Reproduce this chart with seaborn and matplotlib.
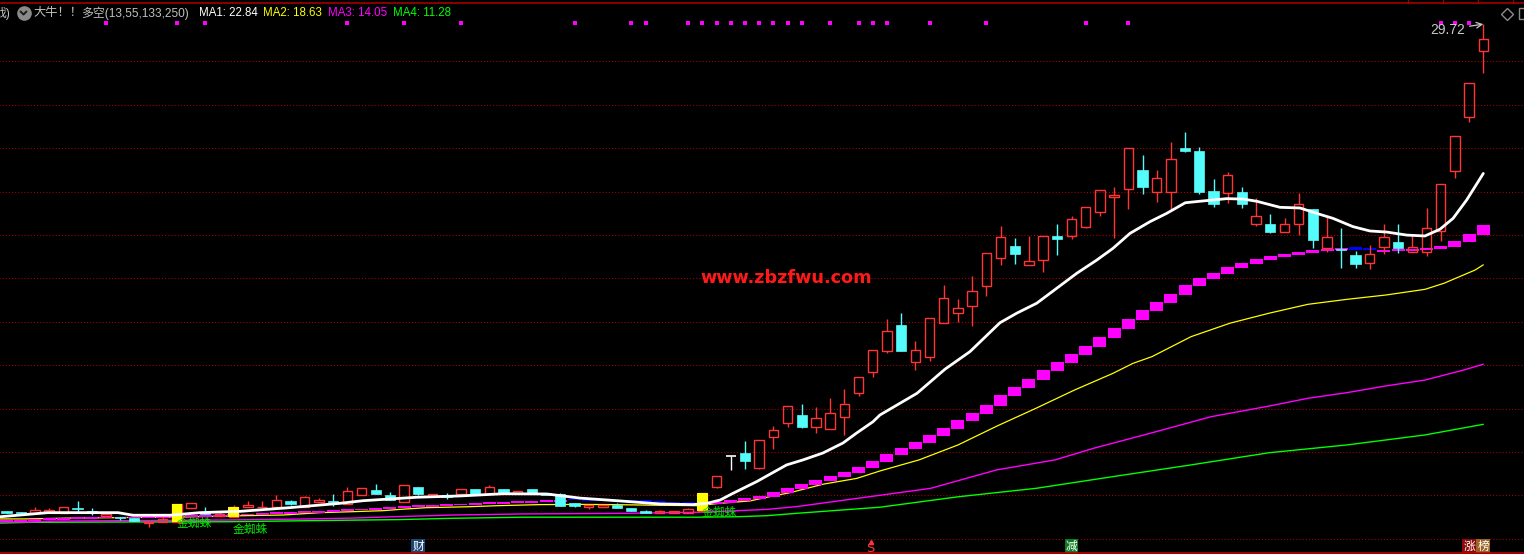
import numpy as np
import pandas as pd
import matplotlib
matplotlib.use("Agg")
import matplotlib.pyplot as plt
import seaborn as sns
from matplotlib.lines import Line2D
from matplotlib.patches import Rectangle
from matplotlib import font_manager as fm

# ---------------- data ----------------
opens = [7.29, 7.24, 7.18, 7.25, 7.21, 7.42, 7.29, 7.07, 7.02, 6.98,
         6.73, 6.79, 6.79, 7.44, 7.19, 7.07, 7.01, 7.46, 7.46, 7.48,
         7.75, 7.49, 7.71, 7.73, 7.59, 8.02, 8.25, 8.02, 7.71, 8.39,
         7.99, 8.02, 8.07, 8.30, 8.07, 8.30, 8.10, 8.30, 8.12, 8.07,
         7.65, 7.48, 7.48, 7.56, 7.44, 7.29, 7.21, 7.21, 7.21, 7.30,
         8.41, 9.82, 9.96, 9.28, 10.68, 11.33, 11.71, 11.17, 11.05, 11.60,
         12.74, 13.71, 14.67, 15.86, 14.14, 14.37, 15.96, 16.40, 16.75, 17.67,
         18.96, 19.50, 18.61, 18.84, 19.96, 19.97, 20.39, 21.05, 21.74, 22.11,
         23.00, 21.97, 21.97, 24.00, 23.88, 22.03, 21.95, 21.99, 20.50, 20.51,
         20.16, 20.50, 21.20, 19.42, 19.35, 19.08, 18.70, 19.44, 19.68, 19.21,
         19.21, 20.19, 22.97, 25.46, 28.50]
highs = [7.29, 7.24, 7.47, 7.42, 7.47, 7.75, 7.42, 7.16, 7.02, 6.98,
         6.79, 7.15, 7.61, 7.65, 7.47, 7.25, 7.55, 7.75, 7.75, 8.02,
         7.79, 7.98, 7.89, 8.07, 8.38, 8.35, 8.53, 8.15, 8.48, 8.39,
         8.07, 8.10, 8.30, 8.30, 8.48, 8.30, 8.22, 8.30, 8.12, 8.12,
         7.65, 7.58, 7.58, 7.64, 7.44, 7.33, 7.33, 7.29, 7.42, 8.13,
         8.90, 9.82, 10.51, 10.56, 11.20, 12.12, 12.22, 12.08, 12.51, 12.91,
         13.45, 14.69, 16.13, 16.40, 15.12, 16.17, 17.70, 17.06, 18.12, 19.16,
         20.42, 19.87, 19.96, 19.94, 20.51, 20.88, 21.28, 22.06, 22.20, 24.00,
         23.69, 23.00, 24.29, 24.75, 24.07, 22.57, 22.91, 22.22, 21.70, 20.96,
         20.77, 21.95, 21.20, 20.85, 20.34, 19.27, 19.53, 20.51, 20.51, 20.05,
         21.25, 22.34, 24.55, 27.00, 29.72]
lows = [7.21, 7.16, 7.18, 7.25, 7.21, 7.21, 7.10, 7.07, 6.87, 6.82,
        6.55, 6.79, 6.79, 7.44, 7.15, 7.07, 7.01, 7.46, 7.46, 7.48,
        7.55, 7.49, 7.71, 7.53, 7.59, 8.02, 8.06, 7.79, 7.71, 8.01,
        7.99, 7.83, 8.07, 8.07, 8.07, 8.12, 8.10, 8.13, 8.02, 7.53,
        7.48, 7.39, 7.48, 7.44, 7.29, 7.21, 7.21, 7.21, 7.21, 7.30,
        8.36, 9.17, 9.23, 9.22, 10.16, 11.17, 11.12, 10.89, 11.05, 10.80,
        12.59, 13.48, 14.55, 14.67, 13.78, 14.21, 15.96, 15.98, 15.83, 17.21,
        18.64, 18.68, 18.61, 18.31, 19.10, 19.83, 20.34, 20.89, 19.88, 21.22,
        21.91, 21.54, 21.16, 23.82, 21.89, 21.31, 21.47, 21.26, 20.43, 20.11,
        20.16, 19.99, 19.42, 19.21, 18.50, 18.50, 18.45, 19.14, 19.19, 19.21,
        19.05, 19.74, 22.65, 25.23, 27.48]
closes = [7.21, 7.19, 7.33, 7.33, 7.47, 7.36, 7.21, 7.16, 6.96, 6.82,
          6.79, 6.92, 7.61, 7.65, 7.15, 7.13, 7.47, 7.56, 7.49, 7.79,
          7.62, 7.93, 7.81, 7.68, 8.21, 8.35, 8.06, 7.79, 8.48, 8.07,
          8.07, 7.95, 8.30, 8.07, 8.39, 8.12, 8.22, 8.13, 8.02, 7.53,
          7.53, 7.58, 7.58, 7.44, 7.29, 7.21, 7.29, 7.29, 7.38, 8.13,
          8.90, 9.82, 9.59, 10.56, 11.02, 12.12, 11.17, 11.57, 11.79, 12.20,
          13.45, 14.69, 15.57, 14.67, 14.69, 16.17, 17.09, 16.63, 17.41, 19.16,
          19.90, 19.14, 18.79, 19.94, 19.83, 20.73, 21.28, 22.06, 21.83, 24.00,
          22.23, 22.62, 23.49, 23.89, 21.99, 21.45, 22.76, 21.45, 20.87, 20.16,
          20.50, 21.42, 19.79, 19.91, 19.30, 18.67, 19.12, 19.91, 19.42, 19.45,
          20.31, 22.34, 24.55, 27.00, 29.02]

# bull/bear step-block line (value per bar)
block_vals = [6.87, 6.89, 6.92, 6.94, 6.96, 6.99, 7.01, 7.03, 7.03, 7.03,
              7.04, 7.06, 7.07, 7.09, 7.10, 7.12, 7.15, 7.17, 7.19, 7.22,
              7.24, 7.27, 7.30, 7.33, 7.36, 7.40, 7.44, 7.47, 7.50, 7.54,
              7.57, 7.60, 7.63, 7.65, 7.68, 7.71, 7.74, 7.76, 7.77, 7.78,
              7.77, 7.76, 7.75, 7.72, 7.70, 7.68, 7.65, 7.63, 7.61, 7.63,
              7.69, 7.79, 7.89, 7.98, 8.16, 8.35, 8.53, 8.71, 8.90, 9.08,
              9.31, 9.59, 9.91, 10.18, 10.47, 10.79, 11.11, 11.48, 11.80, 12.17,
              12.62, 13.00, 13.37, 13.78, 14.15, 14.52, 14.89, 15.30, 15.72, 16.13,
              16.55, 16.92, 17.29, 17.70, 18.02, 18.25, 18.53, 18.71, 18.90, 19.04,
              19.13, 19.22, 19.31, 19.36, 19.41, 19.33, 19.31, 19.33, 19.34, 19.36,
              19.41, 19.50, 19.73, 20.05, 20.47]

ma1_x = [-0.46, 2.92, 7.85, 8.91, 11.51, 13.63, 16.44, 19.96, 23.49, 25.11,
         28.91, 31.94, 34.96, 38.06, 40.39, 43.2, 46.02, 48.35, 49.33, 50.25,
         51.16, 52.83, 54.94, 56.09, 57.5, 58.91, 59.87, 61.02, 61.51, 64.12,
         66.09, 67.85, 69.96, 71.14, 72.55, 73.96, 75.37, 76.78, 77.92, 79.12,
         80.53, 81.7, 83.01, 84.05, 85.93, 87.08, 88.04, 89.68, 91.09, 92.27,
         93.42, 94.82, 96.02, 97.2, 98.61, 99.89, 100.95, 101.87, 102.83, 104.0]
ma1_y = [7.02, 7.21, 7.21, 7.09, 7.09, 7.21, 7.27, 7.44, 7.64, 7.76,
         7.92, 7.98, 8.08, 8.07, 7.88, 7.75, 7.61, 7.58, 7.64, 7.79,
         8.10, 8.64, 9.41, 9.64, 9.96, 10.42, 10.88, 11.40, 11.71, 12.71,
         13.82, 14.63, 15.96, 16.40, 16.86, 17.55, 18.24, 18.85, 19.39, 20.08,
         20.62, 21.00, 21.49, 21.56, 21.68, 21.66, 21.56, 21.28, 21.25, 21.00,
         20.77, 20.39, 20.19, 20.14, 20.00, 19.96, 20.27, 20.77, 21.62, 22.84]

ma2_x = [-0.46, 1.30, 4.47, 12.43, 15.95, 19.47, 22.08, 24.19, 26.51, 27.71,
         29.61, 32.43, 34.54, 37.57, 40.39, 42.5, 46.02, 48.63, 50.25, 52.36,
         53.77, 55.18, 57.5, 59.89, 61.51, 64.26, 67.01, 69.75, 72.5, 75.21,
         77.92, 79.33, 80.67, 83.42, 86.16, 88.91, 91.65, 94.4, 97.15, 99.89,
         101.23, 103.42, 104.0]
ma2_y = [6.92, 6.92, 6.96, 7.01, 7.06, 7.10, 7.21, 7.25, 7.30, 7.36,
         7.44, 7.48, 7.53, 7.58, 7.59, 7.58, 7.55, 7.53, 7.64, 7.75,
         7.95, 8.13, 8.52, 8.79, 9.13, 9.64, 10.33, 11.20, 12.02, 12.86,
         13.63, 14.09, 14.40, 15.32, 15.94, 16.40, 16.81, 17.04, 17.24, 17.50,
         17.78, 18.39, 18.63]

ma3_x = [-0.46, 1.44, 3.56, 15.53, 21.37, 24.40, 27.71, 31.44, 36.37, 43.70,
         48.84, 51.44, 53.56, 55.67, 61.51, 65.08, 69.73, 73.84, 76.58, 80.67,
         84.82, 88.91, 91.65, 94.4, 97.15, 99.89, 102.61, 104.0]
ma3_y = [6.78, 6.78, 6.82, 6.87, 6.92, 6.96, 7.03, 7.10, 7.15, 7.18,
         7.23, 7.30, 7.36, 7.49, 8.01, 8.33, 9.18, 9.64, 10.18, 10.89,
         11.63, 12.12, 12.48, 12.74, 13.05, 13.32, 13.78, 14.05]

ma4_x = [-0.46, 1.44, 3.56, 15.53, 21.37, 27.71, 31.44, 36.37, 48.63, 51.44,
         53.56, 55.67, 61.51, 67.01, 72.5, 77.92, 83.42, 88.91, 94.4, 99.89,
         104.0]
ma4_y = [6.73, 6.76, 6.77, 6.79, 6.84, 6.89, 6.95, 7.00, 7.00, 7.02,
         7.07, 7.18, 7.46, 7.94, 8.33, 8.87, 9.41, 9.97, 10.33, 10.79,
         11.28]

ma_names = ["MA1", "MA2", "MA3", "MA4"]
ma_last = [22.84, 18.63, 14.05, 11.28]
title_prefix = "大牛！！"
title_main = "多空(13,55,133,250)"
cut_label = "戏)"

gold_bars = [12, 16, 49]
gold_label = "金蜘蛛"
gold_label_y = [6.73, 6.43, 7.24]

signal_bars = [7, 12, 14, 24, 28, 32, 40, 44, 45, 48, 49, 50, 51, 52, 53, 54,
               55, 56, 58, 60, 61, 62, 65, 69, 76, 79, 101, 102, 103]

grid_levels = [28, 26, 24, 22, 20, 18, 16, 14, 12, 10, 8, 6]

bottom_labels = ["财", "S", "减", "涨", "榜"]
bottom_bars = [29, 61, 75, 103, 104]

high_label = "29.72"
watermark = "www.zbzfwu.com"

# ---------------- style ----------------
W, H = 1524, 554
sns.set_theme(style="dark", rc={"axes.facecolor": "black", "figure.facecolor": "black"})
names = {f.name for f in fm.fontManager.ttflist}
narrow = "Liberation Sans Narrow" if "Liberation Sans Narrow" in names else "Liberation Sans"
plt.rcParams["font.family"] = [narrow, "Noto Sans CJK SC", "DejaVu Sans"]
plt.rcParams["axes.unicode_minus"] = False

fig = plt.figure(figsize=(W / 100, H / 100), dpi=100, facecolor="black")
ax = fig.add_axes([0, 0, 1, 1])
ax.set_facecolor("black")
X0, DX = 6.5, 14.2
ax.set_xlim(-X0 / DX, (W - X0) / DX)
PPU = 21.7
YTOP = 30.834
ax.set_ylim(YTOP - H / PPU, YTOP)


def fx(px):
    return px / W


def fy(py):
    return 1 - py / H


RED = "#ff3535"
CYAN = "#54fcfc"
MAG = "#ff00ff"

# grid
ax.hlines(grid_levels, -1, 110, colors="#b00000", linestyles=(0, (1, 2)), lw=0.75, zorder=1)

# MA lines (long ones underneath)
for xs, ys, col, lw in [(ma4_x, ma4_y, "#00ff00", 1.0),
                        (ma3_x, ma3_y, MAG, 1.0),
                        (ma2_x, ma2_y, "#ffff00", 0.9)]:
    sns.lineplot(data=pd.DataFrame({"x": xs, "y": ys}), x="x", y="y", ax=ax,
                 color=col, lw=lw, sort=False, estimator=None, legend=False, zorder=2)

# step blocks
n = len(opens)
bottoms, heights, cols = [], [], []
for i in range(n):
    prev = block_vals[i - 1] if i > 0 else block_vals[i]
    lo, hi = min(prev, block_vals[i]), max(prev, block_vals[i])
    h = max(hi - lo + 0.04, 0.09)
    bottoms.append(hi - h if block_vals[i] >= prev else lo)
    heights.append(h)
    cols.append(MAG if block_vals[i] >= prev else "#0000ff")
ax.bar(np.arange(n), heights, bottom=bottoms, width=0.92, color=cols, linewidth=0, zorder=3)

# candles
for i in range(n):
    o, hgh, low, c = opens[i], highs[i], lows[i], closes[i]
    if c > o:
        ax.add_patch(Rectangle((i - 0.33, o), 0.66, c - o, fill=False, ec=RED, lw=1.0, zorder=4))
        if hgh > c:
            ax.vlines(i, c, hgh, color=RED, lw=1.0, zorder=4)
        if low < o:
            ax.vlines(i, low, o, color=RED, lw=1.0, zorder=4)
    elif c < o:
        ax.vlines(i, low, hgh, color=CYAN, lw=1.0, zorder=4)
        ax.add_patch(Rectangle((i - 0.36, c), 0.72, o - c, fc=CYAN, ec=CYAN, lw=0.5, zorder=4))
    else:
        ax.vlines(i, low, hgh, color="white", lw=1.0, zorder=4)
        ax.hlines(o, i - 0.36, i + 0.36, color="white", lw=1.2, zorder=4)

# golden spider signal bars
for k, b in enumerate(gold_bars):
    lo, hi = min(opens[b], closes[b]), max(opens[b], closes[b])
    ax.bar(b, hi - lo, bottom=lo, width=0.76, color="#ffff00", linewidth=0, zorder=5)
    ax.text(b - 0.05, gold_label_y[k], gold_label, color="#00e800", fontsize=8.5,
            family=["Noto Sans CJK SC"], ha="left", va="center", zorder=7)

# white MA1 line on top
sns.lineplot(data=pd.DataFrame({"x": ma1_x, "y": ma1_y}), x="x", y="y", ax=ax,
             color="white", lw=2.0, sort=False, estimator=None, legend=False, zorder=6)

# top signal dots
ax.scatter(signal_bars, [YTOP - 22.5 / PPU] * len(signal_bars), marker="s", s=9,
           color=MAG, linewidths=0, zorder=7)

# high annotation
ax.annotate(high_label, xy=(104, highs[104]), xytext=(1430 / DX - X0 / DX, YTOP - 29.5 / PPU),
            color="#c8c8c8", fontsize=10, ha="left", va="center",
            arrowprops=dict(arrowstyle="->", color="#c8c8c8", lw=0.9, shrinkA=1, shrinkB=0),
            zorder=7)

# bottom labels
label_styles = [("#ffffff", "#1c4573"), (RED, None), ("#ffffff", "#0b7a22"),
                ("#ffffff", "#8c0a0a"), ("#ffffff", "#9a6224")]
ybot = YTOP - 546 / PPU
for lab, b, (tc, bg) in zip(bottom_labels, bottom_bars, label_styles):
    if bg is None:
        ax.text(b - 0.15, YTOP - 548 / PPU, lab, color=tc, fontsize=9.5, family=["DejaVu Sans"],
                ha="center", va="center", zorder=7)
        ax.plot([b - 0.15], [YTOP - 542 / PPU], marker="^", ms=3, color=tc, zorder=7)
    else:
        ax.text(b, ybot, lab, color=tc, fontsize=8.5, family=["Noto Sans CJK SC"],
                ha="center", va="center", zorder=7,
                bbox=dict(boxstyle="square,pad=0.08", fc=bg, ec="none"))

ax.axis("off")

# frame lines
fig.add_artist(Line2D([0, 1], [fy(3), fy(3)], transform=fig.transFigure, color="#a00000", lw=1.2))
fig.add_artist(Line2D([0, 1], [fy(553), fy(553)], transform=fig.transFigure, color="#c00000", lw=1.2))
for tx in [1408, 1443, 1478, 1513]:
    fig.add_artist(Line2D([fx(tx), fx(tx)], [fy(0), fy(3)], transform=fig.transFigure,
                          color="#a00000", lw=1))

# top legend line
ty = fy(13)
fig.text(fx(-5), ty, cut_label, color="#c0c0c0", fontsize=8.6, va="center", ha="left")
fig.add_artist(Line2D([fx(23.5)], [ty], marker="o", ms=9.5, color="#8a8a8a",
                      transform=fig.transFigure))
fig.add_artist(Line2D([fx(20.5), fx(23.5), fx(26.5)], [fy(11.5), fy(14.5), fy(11.5)],
                      transform=fig.transFigure, color="#1a1a1a", lw=1.4))
fig.text(fx(33), ty, title_prefix, color="#c0c0c0", fontsize=8.8, va="center", ha="left")
fig.text(fx(81), ty, title_main, color="#c0c0c0", fontsize=8.6, va="center", ha="left")
ma_cols = ["#ffffff", "#ffff00", "#ff00ff", "#00ff00"]
ma_px = [199, 263, 328, 393]
for nm, v, c, px in zip(ma_names, ma_last, ma_cols, ma_px):
    fig.text(fx(px), ty, f"{nm}: {v:.2f}", color=c, fontsize=8.3, va="center", ha="left")

# right top icons
fig.add_artist(Line2D([fx(1506.5)], [fy(13.5)], marker="D", ms=6.5, mfc="none", mec="#8a8a8a",
                      mew=1, transform=fig.transFigure))
fig.add_artist(Rectangle((fx(1519), fy(19)), fx(12), 11 / H, fill=False, ec="#8a8a8a", lw=1,
                         transform=fig.transFigure))

# watermark
fig.text(fx(786), fy(278), watermark, color="#ff1a1a", fontsize=12.7, fontweight="bold",
         family=["DejaVu Sans"], ha="center", va="center", zorder=8)

fig.savefig("out.png", dpi=100, facecolor="black")
